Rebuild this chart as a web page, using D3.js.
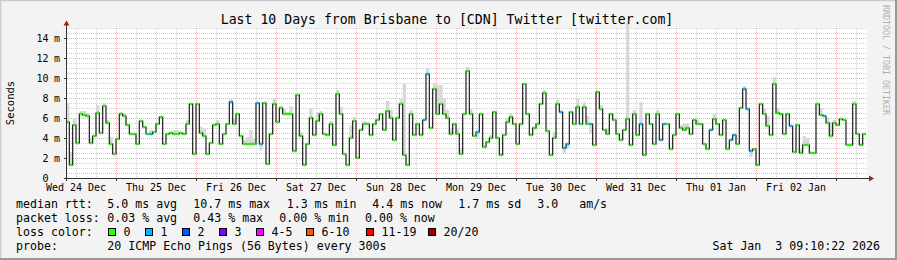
<!DOCTYPE html>
<html>
<head>
<meta charset="utf-8">
<script src="https://cdn.jsdelivr.net/npm/d3@7"></script>
<style>
  body { margin: 0; background: #f3f3f3; }
  svg { display: block; font-family: "DejaVu Sans Mono", monospace; }
</style>
</head>
<body>
<div id="chart"></div>
<script>
// Hourly median RTT in ms, starting Wed 24 Dec 09:00
const medianMs = [
  5.6, 1.3, 5.3, 3.5, 6.4, 6.3, 6.2, 3.5, 4.2, 6.5, 4.5, 7.2, 5.5, 3.4, 2.4, 3.9, 6.4, 6.2, 5.3, 4.4,
  4.4, 3.4, 5.7, 5.1, 4.4, 4.4, 4.6, 5.4, 6.1, 3.4, 4.4, 4.5, 4.4, 4.4, 4.5, 4.4, 5.4, 7.4, 2.4, 7.4,
  4.5, 4.2, 2.4, 3.5, 5.3, 5.4, 3.4, 4.4, 5.4, 7.6, 5.4, 6.4, 4.2, 3.4, 3.4, 3.4, 3.4, 7.5, 3.4, 7.5,
  1.4, 4.4, 7.4, 5.6, 7.0, 6.4, 6.4, 6.4, 2.7, 8.3, 4.2, 1.3, 3.4, 6.0, 4.3, 5.7, 6.4, 4.4, 4.3, 5.4,
  3.3, 8.4, 6.4, 2.4, 1.3, 4.0, 5.7, 2.0, 4.8, 5.4, 5.4, 4.3, 5.4, 5.8, 6.4, 4.8, 6.7, 6.0, 3.8, 6.0,
  7.4, 2.3, 1.3, 6.4, 4.3, 5.4, 4.3, 5.8, 10.4, 5.0, 8.9, 6.4, 7.4, 6.4, 6.0, 4.4, 5.4, 4.4, 2.4, 6.4,
  10.7, 6.4, 4.2, 4.6, 6.4, 3.1, 3.6, 4.0, 6.6, 4.0, 2.3, 4.3, 5.6, 6.1, 5.4, 3.4, 5.4, 9.4, 6.4, 4.3,
  5.0, 5.4, 7.4, 8.5, 4.7, 2.3, 4.0, 7.4, 6.6, 3.0, 3.4, 6.6, 5.4, 7.1, 5.4, 7.1, 5.4, 5.4, 3.3, 8.6,
  6.9, 4.8, 4.4, 6.4, 5.8, 4.4, 3.8, 4.8, 5.9, 3.3, 6.4, 4.3, 5.4, 2.3, 6.4, 5.4, 3.4, 6.4, 3.8, 5.4,
  5.4, 2.9, 4.3, 6.4, 5.0, 4.8, 5.0, 4.4, 5.8, 5.4, 5.4, 3.4, 2.9, 4.8, 5.9, 5.4, 4.3, 5.8, 2.9, 3.8,
  4.3, 3.4, 7.0, 8.9, 6.9, 2.7, 2.9, 1.3, 7.4, 6.4, 5.2, 4.3, 9.4, 6.5, 6.4, 4.4, 6.4, 5.2, 2.6, 5.3,
  2.5, 3.3, 3.3, 2.5, 2.5, 7.4, 6.3, 6.2, 5.5, 4.2, 5.5, 5.3, 5.9, 5.8, 3.3, 3.3, 7.4, 4.4, 3.3, 4.4
];

// hours where 1 of 20 pings was lost (all others: 0)
const oneLossHours = [25, 49, 57, 58, 107, 108, 123, 148, 149, 150, 157, 172, 178, 179, 193, 199, 200,
  203, 204, 205, 217, 227];

// smoke band [hour, low ms, high ms]
const smoke = [
  [0, 5.6, 7.5], [1, 1.3, 2.6], [2, 5.3, 6.0], [4, 6.4, 6.7], [5, 6.3, 6.7], [6, 6.2, 6.5], [7, 3.5, 4.0],
  [9, 6.5, 7.3], [11, 7.2, 7.5], [12, 5.5, 5.8], [13, 3.4, 4.1], [16, 6.4, 6.6], [17, 6.2, 6.5],
  [25, 4.3, 4.8], [32, 4.4, 4.8], [33, 4.4, 4.8], [36, 5.4, 5.8], [40, 4.5, 5.1], [41, 4.2, 4.9],
  [45, 5.4, 5.8], [49, 7.6, 7.9], [50, 5.4, 5.9], [53, 3.4, 3.8], [54, 3.4, 4.1], [55, 3.4, 4.8],
  [56, 3.4, 4.0], [58, 2.8, 3.4], [62, 7.4, 7.9], [64, 7.0, 7.2], [65, 6.4, 6.9], [66, 6.4, 6.6],
  [67, 6.4, 7.2], [70, 4.2, 4.6], [73, 6.0, 7.0], [75, 5.7, 6.6], [76, 6.4, 6.7], [79, 5.4, 5.7],
  [81, 8.4, 8.8], [82, 6.4, 7.1], [85, 4.0, 5.3], [86, 5.7, 6.1], [89, 5.4, 5.7], [90, 5.4, 5.6],
  [96, 6.7, 7.7], [97, 6.0, 6.8], [100, 7.4, 7.9], [101, 2.3, 9.5], [103, 6.4, 6.8], [108, 10.4, 11.0],
  [110, 8.9, 9.5], [111, 6.4, 9.3], [112, 7.4, 9.3], [113, 6.4, 8.0], [114, 6.0, 6.8], [115, 4.4, 5.0],
  [117, 4.4, 4.9], [118, 2.4, 3.0], [120, 10.7, 11.1], [121, 6.4, 6.9], [123, 4.0, 4.6], [127, 4.0, 4.3],
  [132, 5.6, 6.0], [133, 6.1, 6.4], [143, 8.5, 8.8], [146, 4.0, 4.6], [147, 7.4, 7.8], [149, 2.5, 3.0],
  [150, 3.0, 3.4], [153, 7.1, 8.0], [155, 7.1, 7.6], [156, 5.4, 6.2], [157, 4.5, 5.4], [160, 6.9, 7.3],
  [162, 4.4, 5.0], [168, 5.9, 15.5], [170, 6.4, 6.8], [172, 5.4, 7.6], [177, 6.4, 6.8], [184, 5.0, 5.3],
  [185, 4.8, 5.4], [186, 5.0, 5.4], [189, 5.4, 5.8], [194, 5.9, 6.4], [203, 8.9, 9.2], [205, 2.1, 2.7],
  [209, 6.4, 7.0], [210, 5.2, 6.2], [212, 9.4, 10.1], [213, 6.5, 7.0], [220, 2.5, 2.9], [221, 3.3, 4.2],
  [222, 3.3, 4.0], [226, 6.3, 7.0], [228, 5.5, 6.0], [229, 4.2, 5.6], [230, 5.5, 5.8], [236, 7.4, 7.7]
];

const lossLabels = ["0", "1", "2", "3", "4-5", "6-10", "11-19", "20/20"];
const lossColors = ["#26ff00", "#00b8ff", "#0059ff", "#7e00ff", "#ff00ff", "#ff5500", "#ff0000", "#a10000"];
const rttStats = ["5.0 ms avg", "10.7 ms max", "1.3 ms min", "4.4 ms now", "1.7 ms sd", "3.0   am/s"];
const lossStats = ["0.03 % avg", "0.43 % max", "0.00 % min", "0.00 % now"];
const yTicks = [0, 2, 4, 6, 8, 10, 12, 14];

const W = 897, H = 260;
const pLeft = 67, pRight = 867, pTop = 28, pBottom = 178;
const keepSpaces = s => s.replace(/ /g, "\u00a0");

const svg = d3.select("#chart").append("svg")
    .attr("width", W)
    .attr("height", H);

// frame
svg.append("rect").attr("width", W).attr("height", H).attr("fill", "#f3f3f3");
svg.append("path").attr("d", `M0.5,${H} V0.5 H${W}`).attr("fill", "none").attr("stroke", "#cbcbcb").attr("stroke-width", 1.5);
svg.append("path").attr("d", `M0,${H - 1} H${W - 1} V0`).attr("fill", "none").attr("stroke", "#9a9a9a").attr("stroke-width", 2);

// scales
const start = new Date(2025, 11, 24, 9, 0);
const t0 = d3.timeMinute.offset(start, 18);
const t1 = d3.timeDay.offset(t0, 10);
const x = d3.scaleTime().domain([t0, t1]).range([pLeft, pRight]);
const y = d3.scaleLinear().domain([0, 15]).range([pBottom, pTop]);
const hour = i => d3.timeHour.offset(start, i);

svg.append("rect")
    .attr("x", pLeft).attr("y", pTop)
    .attr("width", pRight - pLeft).attr("height", pBottom - pTop)
    .attr("fill", "#ffffff");

// grid
const grid = svg.append("g").attr("stroke-width", 1).attr("stroke-dasharray", "1,1");
const minorY = d3.range(1, 31).map(d => d / 2).filter(d => d % 2 !== 0);
grid.selectAll(".hmin").data(minorY).join("line")
    .attr("x1", pLeft).attr("x2", pRight)
    .attr("y1", d => Math.round(y(d)) + 0.5).attr("y2", d => Math.round(y(d)) + 0.5)
    .attr("stroke", "#cfcfcf");
const sixHours = x.ticks(d3.timeHour.every(6)).filter(d => d.getHours() !== 0);
grid.selectAll(".vmin").data(sixHours).join("line")
    .attr("x1", d => Math.round(x(d)) + 0.5).attr("x2", d => Math.round(x(d)) + 0.5)
    .attr("y1", pTop).attr("y2", pBottom)
    .attr("stroke", "#cfcfcf");
grid.selectAll(".hmaj").data(yTicks.slice(1)).join("line")
    .attr("x1", pLeft).attr("x2", pRight)
    .attr("y1", d => Math.round(y(d)) + 0.5).attr("y2", d => Math.round(y(d)) + 0.5)
    .attr("stroke", "#ebb0b0");
const midnights = d3.timeDay.range(t0, t1);
grid.selectAll(".vmaj").data(midnights).join("line")
    .attr("x1", d => Math.round(x(d)) + 0.5).attr("x2", d => Math.round(x(d)) + 0.5)
    .attr("y1", pTop).attr("y2", pBottom)
    .attr("stroke", "#ebb0b0");

// plot contents
svg.append("clipPath").attr("id", "plot")
    .append("rect").attr("x", pLeft).attr("y", 20).attr("width", pRight - pLeft).attr("height", pBottom - 20);
const plot = svg.append("g").attr("clip-path", "url(#plot)");

plot.selectAll(".smoke").data(smoke).join("rect")
    .attr("x", d => x(hour(d[0])))
    .attr("width", d => x(hour(d[0] + 1)) - x(hour(d[0])))
    .attr("y", d => y(d[2]))
    .attr("height", d => y(d[1]) - y(d[2]))
    .attr("fill", "#d9d9d9");

const pts = medianMs.map((v, i) => [x(hour(i)), y(v)]);
pts.push([x(hour(medianMs.length)), y(medianMs[medianMs.length - 1])]);
plot.append("path")
    .attr("d", d3.line().curve(d3.curveStepAfter)(pts))
    .attr("fill", "none")
    .attr("stroke", "#202020")
    .attr("stroke-width", 1.2);

plot.selectAll(".med").data(medianMs).join("line")
    .attr("x1", (d, i) => x(hour(i)) + 0.5)
    .attr("x2", (d, i) => x(hour(i + 1)) - 0.5)
    .attr("y1", d => y(d)).attr("y2", d => y(d))
    .attr("stroke", (d, i) => lossColors[oneLossHours.includes(i) ? 1 : 0])
    .attr("stroke-width", 2.6);

// axes
const axisColor = "#333";
svg.append("line").attr("x1", pLeft - 0.5).attr("x2", pLeft - 0.5).attr("y1", pBottom + 3).attr("y2", 23)
    .attr("stroke", axisColor);
svg.append("line").attr("x1", pLeft - 3).attr("x2", pRight + 3).attr("y1", pBottom + 0.5).attr("y2", pBottom + 0.5)
    .attr("stroke", axisColor);
svg.append("path").attr("d", `M${pLeft - 3.5},25.5 L${pLeft - 0.5},20.5 L${pLeft + 2.5},25.5 Z`).attr("fill", "#a02020");
svg.append("path").attr("d", `M${pRight + 2},${pBottom - 2.5} L${pRight + 7},${pBottom + 0.5} L${pRight + 2},${pBottom + 3.5} Z`).attr("fill", "#a02020");

svg.selectAll(".ytick").data(yTicks).join("line")
    .attr("x1", pLeft - 3).attr("x2", pLeft)
    .attr("y1", d => Math.round(y(d)) + 0.5).attr("y2", d => Math.round(y(d)) + 0.5)
    .attr("stroke", axisColor);
svg.selectAll(".xtick").data(midnights).join("line")
    .attr("x1", d => Math.round(x(d)) + 0.5).attr("x2", d => Math.round(x(d)) + 0.5)
    .attr("y1", pBottom).attr("y2", pBottom + 3)
    .attr("stroke", axisColor);

const ylab = svg.append("g").attr("font-size", 10).attr("fill", "#000");
ylab.selectAll(".yn").data(yTicks).join("text")
    .attr("x", 48.5).attr("y", d => Math.round(y(d)) + 4)
    .attr("text-anchor", "end")
    .text(d => d);
ylab.selectAll(".yu").data(yTicks.slice(1)).join("text")
    .attr("x", 54).attr("y", d => Math.round(y(d)) + 4)
    .text("m");

const noons = d3.timeDay.range(d3.timeDay.floor(t0), t1).map(d => d3.timeHour.offset(d, 12))
    .filter(d => d > t0 && d < t1);
svg.append("g").attr("font-size", 10).attr("fill", "#000")
    .selectAll("text").data(noons).join("text")
    .attr("x", d => x(d)).attr("y", 191)
    .attr("text-anchor", "middle")
    .text(d3.timeFormat("%a %d %b"));

// titles
svg.append("text")
    .attr("x", 447).attr("y", 24)
    .attr("text-anchor", "middle")
    .attr("font-size", 13.2)
    .text("Last 10 Days from Brisbane to [CDN] Twitter [twitter.com]");

svg.append("text")
    .attr("transform", "translate(13.5,103) rotate(-90)")
    .attr("text-anchor", "middle")
    .attr("font-size", 10.5)
    .text("Seconds");

svg.append("text")
    .attr("transform", "translate(883,5) rotate(90)")
    .attr("font-size", 8.3)
    .attr("fill", "#b0b0b0")
    .text("RRDTOOL / TOBI OETIKER");

// legend
const leg = svg.append("g").attr("font-size", 11.6).attr("fill", "#000");
leg.append("text").attr("x", 16).attr("y", 208).text("median rtt:");
leg.selectAll(".rtt").data(rttStats).join("text")
    .attr("x", (d, i) => [107.3, 193.3, 286.7, 372.3, 458.3, 537.3][i])
    .attr("y", 208)
    .text(d => keepSpaces(d));
leg.append("text").attr("x", 16).attr("y", 222).text("packet loss:");
leg.selectAll(".loss").data(lossStats).join("text")
    .attr("x", (d, i) => [107.3, 193.3, 279.3, 365][i])
    .attr("y", 222)
    .text(d => d);
leg.append("text").attr("x", 16).attr("y", 236).text("loss color:");
const boxX = [108.5, 145.5, 182.5, 219.5, 256.5, 306.5, 366.5, 428.5];
leg.selectAll(".box").data(lossLabels).join("rect")
    .attr("x", (d, i) => boxX[i]).attr("y", 228.5)
    .attr("width", 7).attr("height", 7)
    .attr("fill", (d, i) => lossColors[i])
    .attr("stroke", "#000").attr("stroke-width", 1);
leg.selectAll(".lbl").data(lossLabels).join("text")
    .attr("x", (d, i) => boxX[i] + 15).attr("y", 236)
    .text(d => d);
leg.append("text").attr("x", 16).attr("y", 249.5).text("probe:");
leg.append("text").attr("x", 107.3).attr("y", 249.5).text("20 ICMP Echo Pings (56 Bytes) every 300s");
leg.append("text").attr("x", 880).attr("y", 250).attr("text-anchor", "end").text(keepSpaces("Sat Jan  3 09:10:22 2026"));
</script>
</body>
</html>
